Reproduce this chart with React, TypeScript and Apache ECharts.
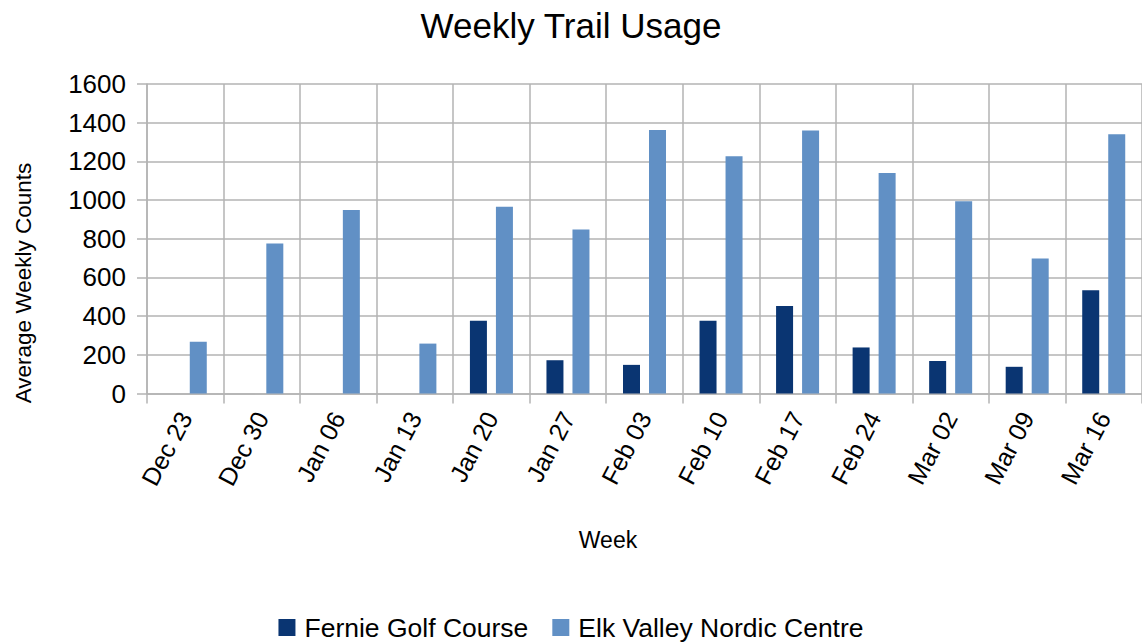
import React, { useEffect, useRef } from "react";
import * as echarts from "echarts";

const weeks = ["Dec 23", "Dec 30", "Jan 06", "Jan 13", "Jan 20", "Jan 27", "Feb 03", "Feb 10", "Feb 17", "Feb 24", "Mar 02", "Mar 09", "Mar 16"];
const fernieGolf = [null, null, null, null, 376, 172, 148, 376, 452, 238, 168, 138, 534];
const elkValley = [268, 775, 948, 258, 965, 848, 1362, 1226, 1360, 1140, 994, 698, 1340];
const seriesNames = ["Fernie Golf Course", "Elk Valley Nordic Centre"];
const yTicks = { min: 0, max: 1600, interval: 200 };

const FONT = "'Liberation Sans', Arial, sans-serif";
const GRID_COLOR = "#b3b3b3";

export default function App() {
  const ref = useRef<HTMLDivElement>(null);
  useEffect(() => {
    if (!ref.current) return;
    const chart = echarts.init(ref.current, null, { renderer: "svg" });
    chart.setOption({
      animation: false,
      backgroundColor: "#ffffff",
      textStyle: { fontFamily: FONT },
      title: {
        text: "Weekly Trail Usage",
        left: "center",
        top: 3,
        textStyle: { fontFamily: FONT, fontSize: 35, fontWeight: "normal", color: "#000" },
      },
      legend: {
        data: seriesNames,
        top: 614,
        left: "center",
        icon: "rect",
        itemWidth: 17,
        itemHeight: 17,
        itemGap: 24,
        padding: 0,
        textStyle: { fontFamily: FONT, fontSize: 26.5, color: "#000", padding: [0, 0, 0, 4] },
      },
      grid: { left: 147, right: -10, top: 84, bottom: 249.5, containLabel: false },
      xAxis: {
        type: "category",
        data: weeks,
        boundaryGap: true,
        axisLine: { show: true, lineStyle: { color: GRID_COLOR, width: 1.5 } },
        axisTick: { show: true, length: 10, alignWithLabel: false, lineStyle: { color: GRID_COLOR, width: 1.5 } },
        splitLine: { show: true, lineStyle: { color: GRID_COLOR, width: 1.5 } },
        axisLabel: { rotate: 62, margin: 20, fontSize: 25, fontFamily: FONT, color: "#000", interval: 0 },
      },
      yAxis: {
        type: "value",
        min: yTicks.min,
        max: yTicks.max,
        interval: yTicks.interval,
        axisLine: { show: true, lineStyle: { color: GRID_COLOR, width: 1.5 } },
        axisTick: { show: true, length: 10, lineStyle: { color: GRID_COLOR, width: 1.5 } },
        splitLine: { show: true, lineStyle: { color: GRID_COLOR, width: 1.5 } },
        axisLabel: { margin: 21, fontSize: 26, fontFamily: FONT, color: "#000", formatter: (v: number) => String(v) },
      },
      graphic: [
        {
          type: "text",
          x: 608,
          y: 540,
          style: { text: "Week", font: `23px ${FONT}`, fill: "#000", textAlign: "center", textVerticalAlign: "middle" },
        },
        {
          type: "text",
          x: 23,
          y: 283,
          rotation: Math.PI / 2,
          style: { text: "Average Weekly Counts", font: `22.5px ${FONT}`, fill: "#000", textAlign: "center", textVerticalAlign: "middle" },
        },
      ],
      series: [
        {
          name: seriesNames[0],
          type: "bar",
          data: fernieGolf,
          barWidth: 17,
          barGap: "53%",
          itemStyle: { color: "#0a3572" },
        },
        {
          name: seriesNames[1],
          type: "bar",
          data: elkValley,
          barWidth: 17,
          itemStyle: { color: "#6190c5" },
        },
      ],
    });
    return () => chart.dispose();
  }, []);
  return <div ref={ref} style={{ position: "fixed", left: 0, top: 0, width: 1142, height: 643 }} />;
}
